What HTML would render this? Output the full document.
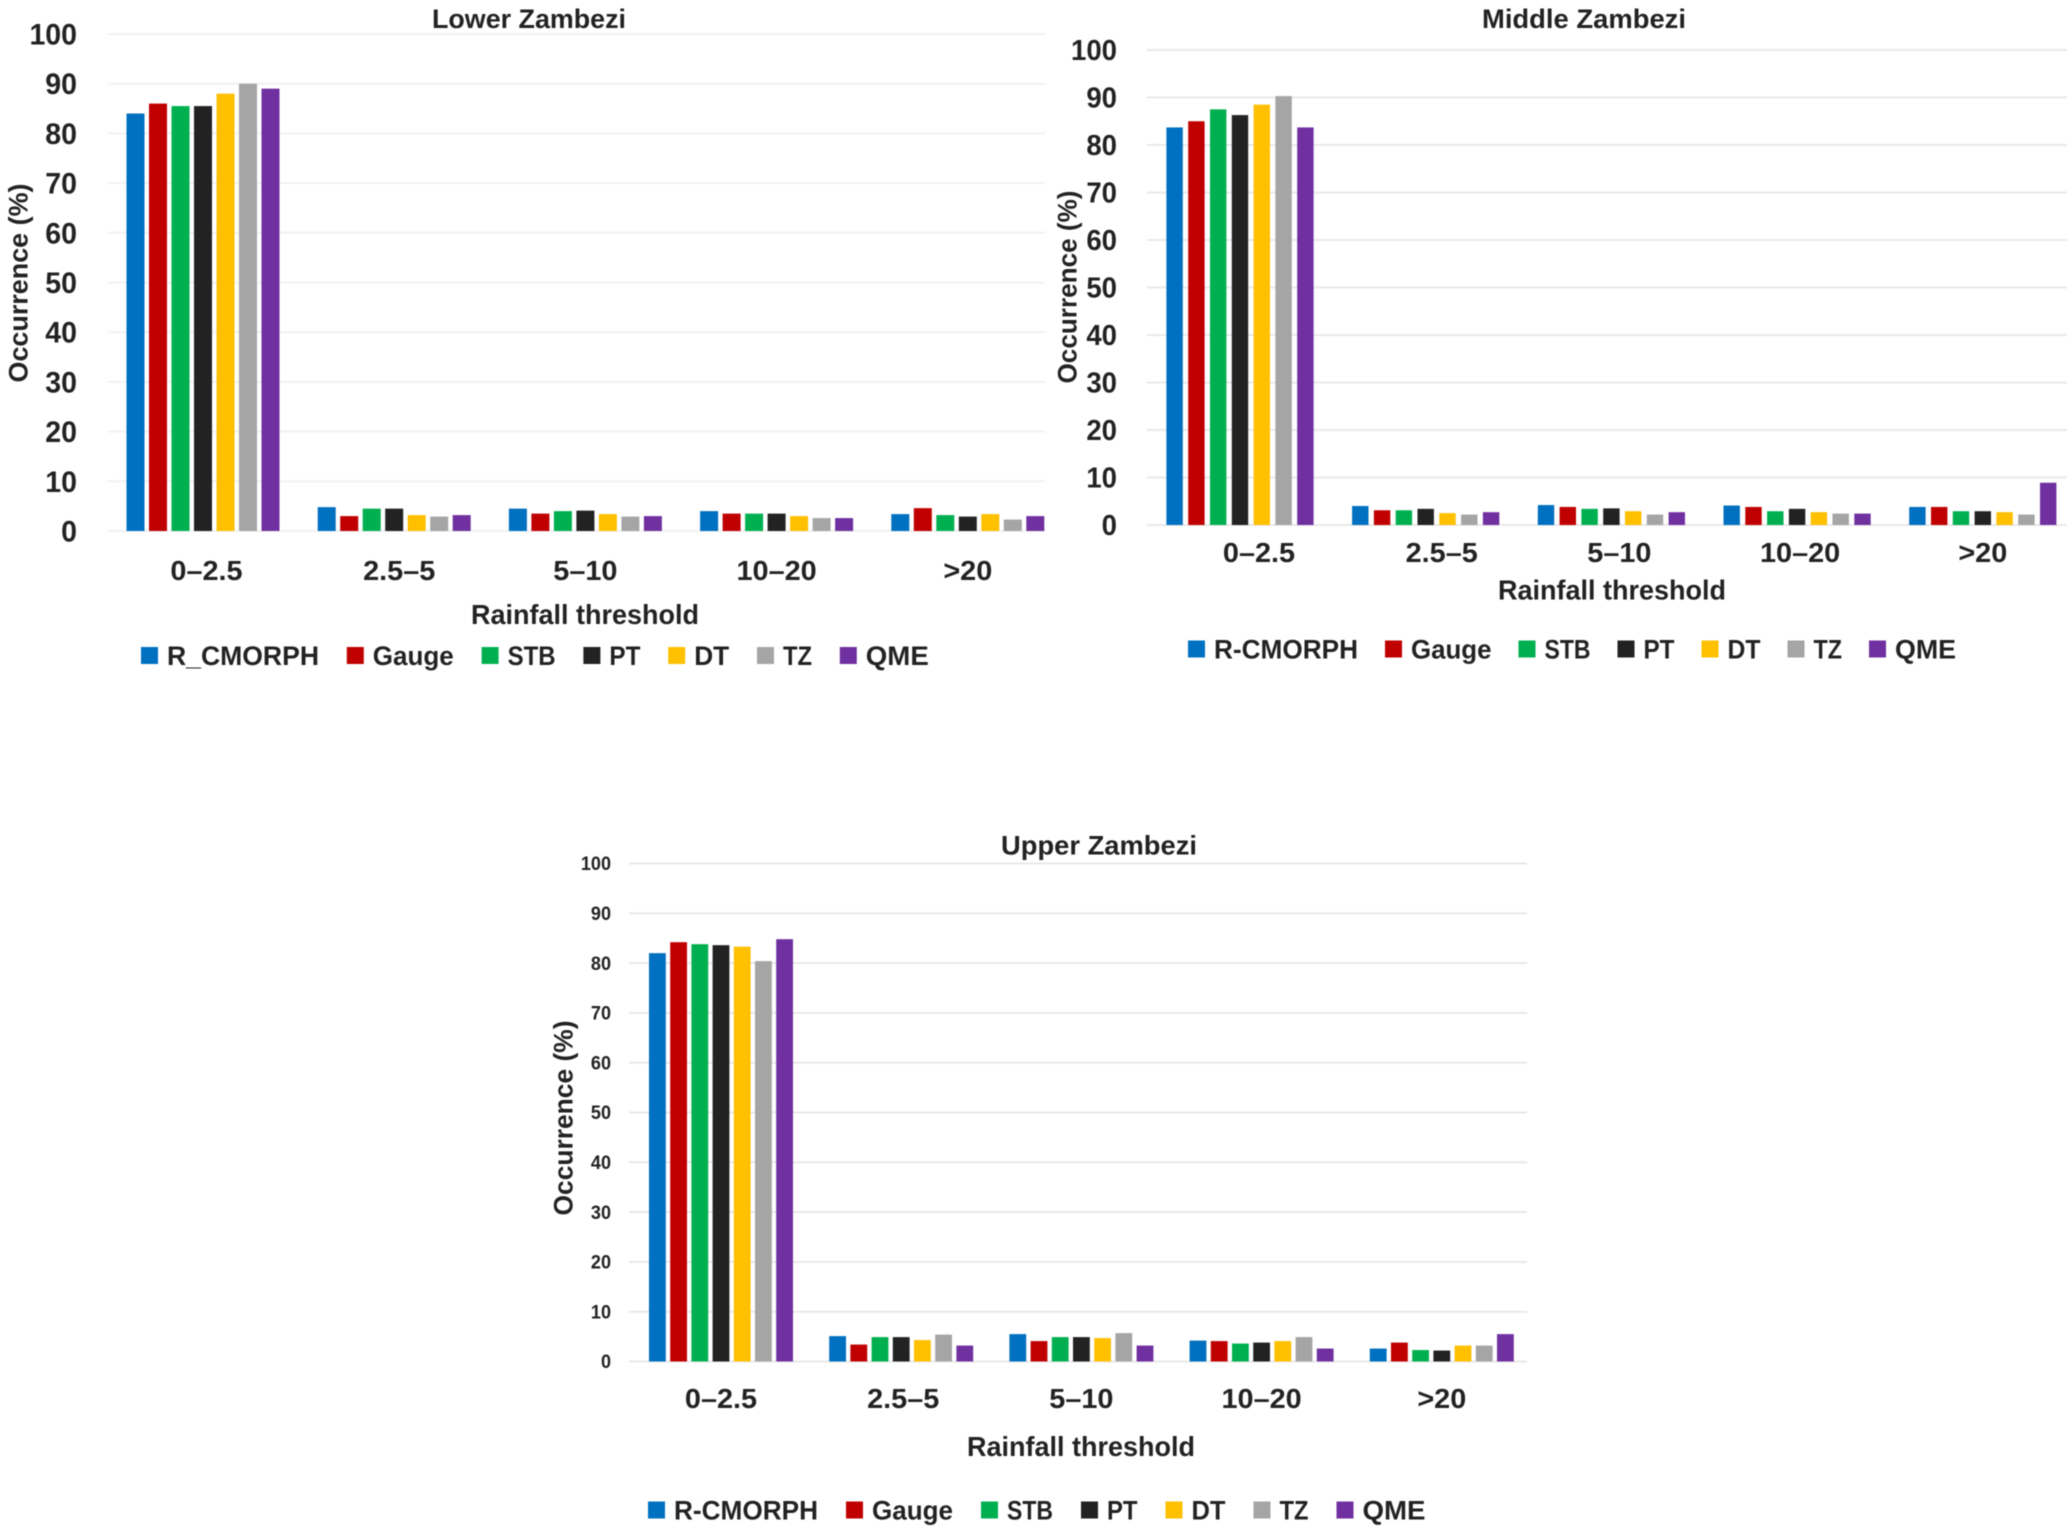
<!DOCTYPE html>
<html lang="en">
<head>
<meta charset="utf-8">
<title>Rainfall occurrence by threshold, Zambezi sub-basins</title>
<style>
  html, body { margin: 0; padding: 0; background: #ffffff; }
  body { width: 2067px; height: 1532px; overflow: hidden; }
  #figure { display: block; filter: blur(0.6px); }
  text { font-family: "Liberation Sans", sans-serif; font-weight: bold; fill: #222222; }
</style>
</head>
<body>
<svg id="figure" xmlns="http://www.w3.org/2000/svg" width="2067" height="1532" viewBox="0 0 2067 1532"></svg>
<script>
// ---- Shared chart data ----
const categories = ['0–2.5', '2.5–5', '5–10', '10–20', '>20'];
const tickLabels = ['0', '10', '20', '30', '40', '50', '60', '70', '80', '90', '100'];
const seriesKeys = ['rcmorph', 'gauge', 'stb', 'pt', 'dt', 'tz', 'qme'];
const seriesColors = ['#0070C0', '#C00000', '#00B050', '#222222', '#FFC000', '#A5A5A5', '#7030A0'];
const lowerSeriesNames = ['R_CMORPH', 'Gauge', 'STB', 'PT', 'DT', 'TZ', 'QME'];
const otherSeriesNames = ['R-CMORPH', 'Gauge', 'STB', 'PT', 'DT', 'TZ', 'QME'];

// ---- Lower Zambezi values (%) ----
const lowerRcmorph = [84, 4.8, 4.5, 4, 3.4];
const lowerGauge = [86, 3, 3.5, 3.5, 4.6];
const lowerStb = [85.5, 4.5, 4, 3.5, 3.2];
const lowerPt = [85.5, 4.5, 4.1, 3.5, 2.9];
const lowerDt = [88, 3.2, 3.4, 3, 3.4];
const lowerTz = [90, 2.9, 2.9, 2.6, 2.3];
const lowerQme = [89, 3.2, 3, 2.6, 3];

// ---- Middle Zambezi values (%) ----
const middleRcmorph = [83.7, 4, 4.2, 4.1, 3.8];
const middleGauge = [85, 3.1, 3.8, 3.8, 3.8];
const middleStb = [87.5, 3.1, 3.4, 2.9, 2.9];
const middlePt = [86.3, 3.4, 3.5, 3.4, 2.9];
const middleDt = [88.5, 2.5, 2.9, 2.7, 2.7];
const middleTz = [90.3, 2.2, 2.2, 2.4, 2.2];
const middleQme = [83.7, 2.7, 2.7, 2.4, 8.9];

// ---- Upper Zambezi values (%) ----
const upperRcmorph = [82, 5.1, 5.5, 4.2, 2.6];
const upperGauge = [84.2, 3.4, 4.1, 4.1, 3.8];
const upperStb = [83.8, 4.9, 4.9, 3.6, 2.3];
const upperPt = [83.6, 4.9, 4.9, 3.8, 2.2];
const upperDt = [83.3, 4.3, 4.7, 4.1, 3.2];
const upperTz = [80.4, 5.4, 5.7, 4.9, 3.2];
const upperQme = [84.8, 3.2, 3.2, 2.6, 5.5];

const yMax = 100;
const NS = 'http://www.w3.org/2000/svg';
const root = document.getElementById('figure');

function mk(tag, parent) {
  const el = document.createElementNS(NS, tag);
  parent.appendChild(el);
  return el;
}

function place(el, str, x, y, size, anchor, length, stretch) {
  el.textContent = str;
  el.setAttribute('x', x);
  el.setAttribute('y', y + size * 0.35);
  el.setAttribute('font-size', size);
  el.setAttribute('text-anchor', anchor);
  let target = length;
  if (!target && stretch) target = el.getComputedTextLength() * stretch;
  if (target) {
    el.setAttribute('textLength', target);
    el.setAttribute('lengthAdjust', 'spacingAndGlyphs');
  }
  return target || el.getComputedTextLength();
}

function drawChart(cfg) {
  const g = mk('g', root);
  
  

  const yScale = v => cfg.yZero + (cfg.yTop - cfg.yZero) * (v / yMax);
  const xBar = (c, s) => cfg.firstBar + c * cfg.catStep + s * cfg.barStep;
  const catCenter = c => xBar(c, 0) + (6 * cfg.barStep + cfg.barWidth) / 2;

  // gridlines and y ticks
  tickLabels.forEach(label => {
    const v = Number(label);
    const line = mk('line', g);
    
    
    line.setAttribute('x1', cfg.plotLeft);
    line.setAttribute('x2', cfg.plotRight);
    line.setAttribute('y1', yScale(v));
    line.setAttribute('y2', yScale(v));
    line.setAttribute('stroke', cfg.gridColor);
    line.setAttribute('stroke-width', 2);

    const t = mk('text', g);
    
    
    place(t, label, cfg.tickRight, yScale(v), cfg.tickSize, 'end', 0, cfg.tickStretch);
  });

  // bars
  cfg.series.forEach((values, s) => {
    values.forEach((value, c) => {
      const bar = mk('rect', g);
      
      
      bar.setAttribute('x', xBar(c, s));
      bar.setAttribute('y', yScale(value));
      bar.setAttribute('width', cfg.barWidth);
      bar.setAttribute('height', yScale(0) - yScale(value));
      bar.setAttribute('fill', seriesColors[s]);
    });
  });

  // category labels
  categories.forEach((label, c) => {
    const t = mk('text', g);
    
    
    place(t, label, catCenter(c) + cfg.labelNudge[c], cfg.catLabelY, 28, 'middle', 0, 1.03);
  });

  // title
  const title = mk('text', g);
  
  
  place(title, cfg.title, cfg.titleX, cfg.titleY, 27, 'middle', cfg.titleLen);

  // x axis title
  const xTitle = mk('text', g);
  
  
  place(xTitle, 'Rainfall threshold', cfg.xTitleX, cfg.xTitleY, 28, 'middle', 228);

  // y axis title
  const yGroup = mk('g', g);
  
  
  yGroup.setAttribute('transform', 'translate(' + cfg.yTitleX + ' ' + cfg.yTitleY + ') rotate(-90)');
  const yTitle = mk('text', yGroup);
  
  
  place(yTitle, 'Occurrence (%)', 0, 0, 27, 'middle', cfg.yTitleLen);

  // legend
  const legend = mk('g', g);
  
  
  let cursor = cfg.legendX;
  cfg.names.forEach((name, s) => {
    const entry = mk('g', legend);
    
    

    const swatch = mk('rect', entry);
    
    
    swatch.setAttribute('x', cursor);
    swatch.setAttribute('y', cfg.legendY - 8.5);
    swatch.setAttribute('width', 17);
    swatch.setAttribute('height', 17);
    swatch.setAttribute('fill', seriesColors[s]);

    const label = mk('text', entry);
    
    
    const w = place(label, name, cursor + 26, cfg.legendY, 27, 'start', cfg.legendTextWidths[s]);
    cursor += 26 + w + cfg.legendGap;
  });
}

drawChart({
  slug: 'lower-zambezi', title: 'Lower Zambezi', names: lowerSeriesNames,
  series: [lowerRcmorph, lowerGauge, lowerStb, lowerPt, lowerDt, lowerTz, lowerQme],
  plotLeft: 108, plotRight: 1045, yZero: 531, yTop: 34,
  firstBar: 126.5, catStep: 191.2, barStep: 22.5, barWidth: 18,
  gridColor: '#f1f1f1', tickRight: 77, tickSize: 30, tickStretch: 0.95,
  catLabelY: 570, labelNudge: [3.5, 5, 0, 0, 0],
  titleX: 529, titleY: 18.5, titleLen: 194,
  xTitleX: 585, xTitleY: 614,
  yTitleX: 18, yTitleY: 283, yTitleLen: 199,
  legendX: 141, legendY: 655.5, legendGap: 27.8, legendTextWidths: [152, 81, 48, 31, 35, 29, 63]
});

drawChart({
  slug: 'middle-zambezi', title: 'Middle Zambezi', names: otherSeriesNames,
  series: [middleRcmorph, middleGauge, middleStb, middlePt, middleDt, middleTz, middleQme],
  plotLeft: 1147, plotRight: 2067, yZero: 525, yTop: 50,
  firstBar: 1166.4, catStep: 185.7, barStep: 21.8, barWidth: 16.4,
  gridColor: '#e9e9e9', tickRight: 1117, tickSize: 29, tickStretch: 0.95,
  catLabelY: 552, labelNudge: [19, 16, 8, 3, 0],
  titleX: 1584, titleY: 18.5, titleLen: 204,
  xTitleX: 1612, xTitleY: 589.5,
  yTitleX: 1067, yTitleY: 287, yTitleLen: 193,
  legendX: 1188, legendY: 649, legendGap: 27, legendTextWidths: [144, 80.5, 46, 31, 33, 28.5, 61]
});

drawChart({
  slug: 'upper-zambezi', title: 'Upper Zambezi', names: otherSeriesNames,
  series: [upperRcmorph, upperGauge, upperStb, upperPt, upperDt, upperTz, upperQme],
  plotLeft: 629, plotRight: 1527, yZero: 1361.5, yTop: 863.5,
  firstBar: 649, catStep: 180.2, barStep: 21.2, barWidth: 16.8,
  gridColor: '#e9e9e9', tickRight: 611, tickSize: 19, tickStretch: 0.95,
  catLabelY: 1398, labelNudge: [0, 2, 0, 0, 0],
  titleX: 1099, titleY: 845, titleLen: 196,
  xTitleX: 1081, xTitleY: 1446,
  yTitleX: 563, yTitleY: 1118, yTitleLen: 195,
  legendX: 648, legendY: 1510, legendGap: 28, legendTextWidths: [144, 81, 46, 30.5, 34, 29, 63]
});
</script>
</body>
</html>
